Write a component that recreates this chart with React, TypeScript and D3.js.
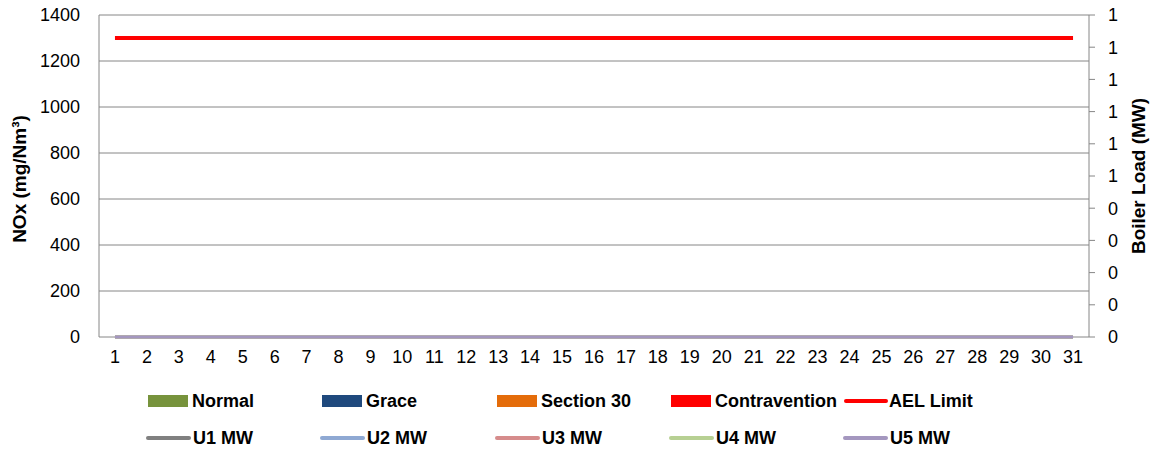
import React from "react";
import * as d3 from "d3";

const days = d3.range(1, 32).map(String);
const normal: number[] = days.map(() => 0);
const grace: number[] = days.map(() => 0);
const section30: number[] = days.map(() => 0);
const contravention: number[] = days.map(() => 0);
const aelLimit: number[] = days.map(() => 1300);
const u1: number[] = days.map(() => 0);
const u2: number[] = days.map(() => 0);
const u3: number[] = days.map(() => 0);
const u4: number[] = days.map(() => 0);
const u5: number[] = days.map(() => 0);
const leftTicks = [0, 200, 400, 600, 800, 1000, 1200, 1400];
const rightTicks = d3.range(0, 11).map((i) => i / 10);

const W = 1155, H = 456;
const M = { left: 99, right: 1089, top: 15, bottom: 337 };
const FONT = "'Liberation Sans', Arial, sans-serif";
const GRID = "#868686";
const TICK_FS = 18;
const LEG_FS = 18;
const TITLE_FS = 19;

const barSeries = [
  { name: "Normal", color: "#77933C", data: normal },
  { name: "Grace", color: "#1F497D", data: grace },
  { name: "Section 30", color: "#E46C0A", data: section30 },
  { name: "Contravention", color: "#FF0000", data: contravention },
];
const mwSeries = [
  { name: "U1 MW", color: "#808080", data: u1 },
  { name: "U2 MW", color: "#8FA9D3", data: u2 },
  { name: "U3 MW", color: "#D68C8C", data: u3 },
  { name: "U4 MW", color: "#B7D093", data: u4 },
  { name: "U5 MW", color: "#A497BF", data: u5 },
];

export default function App() {
  const x = d3.scaleBand().domain(days).range([M.left, M.right]);
  const y = d3.scaleLinear().domain([0, 1400]).range([M.bottom, M.top]);
  const y2 = d3.scaleLinear().domain([0, 1]).range([M.bottom, M.top]);
  const cx = (d: string) => (x(d) as number) + x.bandwidth() / 2;
  const lineL = d3.line<number>().x((_, i) => cx(days[i])).y((v) => y(v));
  const lineR = d3.line<number>().x((_, i) => cx(days[i])).y((v) => y2(v));

  const legendRow1 = [
    ...barSeries.map((s) => ({ ...s, kind: "rect" })),
    { name: "AEL Limit", color: "#FF0000", kind: "line" },
  ];
  const legendRow2 = mwSeries.map((s) => ({ ...s, kind: "line" }));
  const legendX = [148, 322, 497, 671, 845];

  return (
    <svg width={W} height={H} style={{ position: "absolute", left: 0, top: 0, background: "#fff" }}>
      {leftTicks.map((t) => (
        <line key={t} x1={M.left} x2={M.right} y1={y(t)} y2={y(t)} stroke={GRID} strokeWidth={1} />
      ))}
      <line x1={M.left} x2={M.left} y1={M.top} y2={M.bottom} stroke={GRID} />
      <line x1={M.right} x2={M.right} y1={M.top} y2={M.bottom} stroke={GRID} />
      {rightTicks.map((t, i) => (
        <line key={i} x1={M.right} x2={M.right + 6} y1={y2(t)} y2={y2(t)} stroke={GRID} />
      ))}
      {leftTicks.map((t) => (
        <text key={t} x={80} y={y(t)} dy="0.36em" textAnchor="end" fontFamily={FONT} fontSize={TICK_FS} fill="#000">
          {t}
        </text>
      ))}
      {rightTicks.map((t, i) => (
        <text key={i} x={1108} y={y2(t)} dy="0.36em" textAnchor="start" fontFamily={FONT} fontSize={TICK_FS} fill="#000">
          {d3.format(".0f")(t)}
        </text>
      ))}
      {days.map((d) => (
        <text key={d} x={cx(d)} y={363} textAnchor="middle" fontFamily={FONT} fontSize={TICK_FS} fill="#000">
          {d}
        </text>
      ))}
      {barSeries.map((s, si) =>
        s.data.map((v, i) => {
          const bw = x.bandwidth() / 6;
          return (
            <rect key={s.name + i} x={(x(days[i]) as number) + bw + si * bw} width={bw} y={y(v)} height={y(0) - y(v)} fill={s.color} />
          );
        })
      )}
      <path d={lineL(aelLimit) as string} fill="none" stroke="#FF0000" strokeWidth={4} />
      {mwSeries.map((s) => (
        <path key={s.name} d={lineR(s.data) as string} fill="none" stroke={s.color} strokeWidth={3} />
      ))}
      <text transform={`translate(26,179) rotate(-90)`} textAnchor="middle" fontFamily={FONT} fontSize={TITLE_FS} fontWeight="bold">
        NOx (mg/Nm³)
      </text>
      <text transform={`translate(1145,176) rotate(-90)`} textAnchor="middle" fontFamily={FONT} fontSize={TITLE_FS} fontWeight="bold">
        Boiler Load (MW)
      </text>
      {legendRow1.map((s, i) => (
        <g key={s.name} transform={`translate(${legendX[i]},401)`}>
          {s.kind === "rect" ? (
            <rect x={0} y={-6} width={40} height={12} fill={s.color} />
          ) : (
            <line x1={1} x2={41} y1={0} y2={0} stroke={s.color} strokeWidth={4} strokeLinecap="round" />
          )}
          <text x={44} y={0} dy="0.36em" fontFamily={FONT} fontSize={LEG_FS} fontWeight="bold">
            {s.name}
          </text>
        </g>
      ))}
      {legendRow2.map((s, i) => (
        <g key={s.name} transform={`translate(${legendX[i]},438)`}>
          <line x1={0} x2={41} y1={0} y2={0} stroke={s.color} strokeWidth={4} strokeLinecap="round" />
          <text x={45} y={0} dy="0.36em" fontFamily={FONT} fontSize={LEG_FS} fontWeight="bold">
            {s.name}
          </text>
        </g>
      ))}
    </svg>
  );
}
